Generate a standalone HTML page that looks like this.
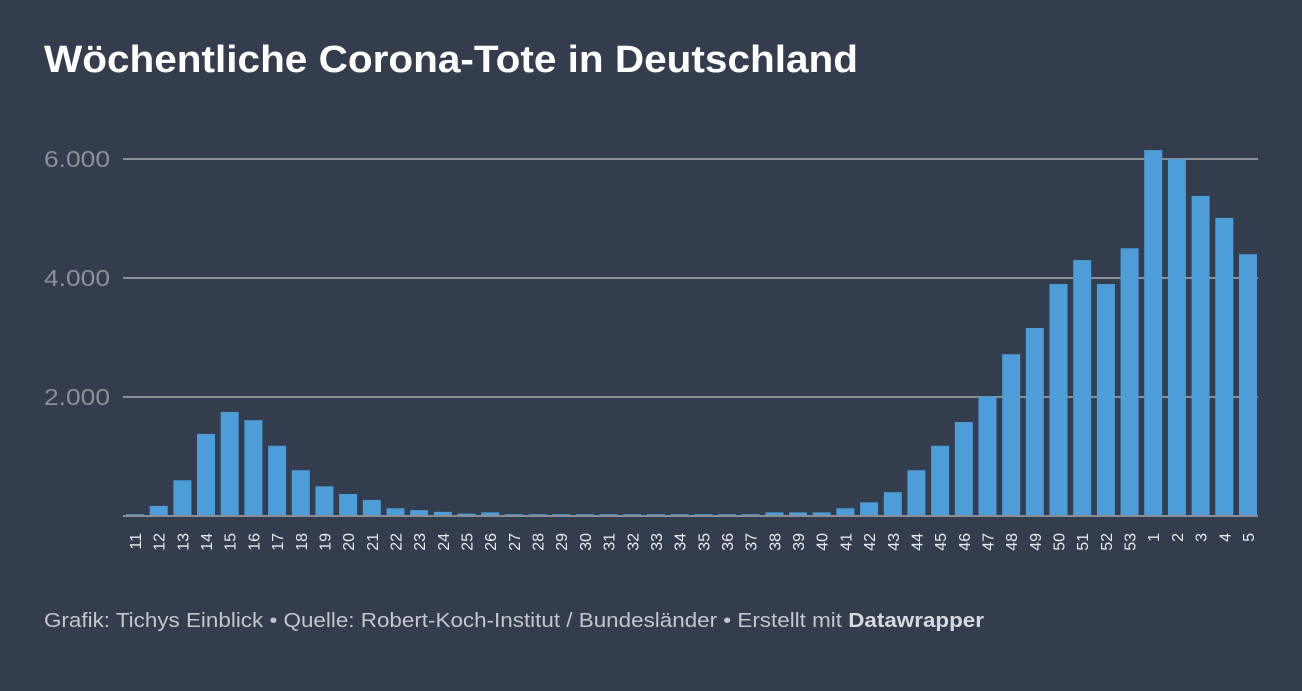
<!DOCTYPE html>
<html><head><meta charset="utf-8"><style>
html,body{margin:0;padding:0;background:#333d4e;}
body{width:1302px;height:686px;overflow:hidden;font-family:"Liberation Sans",sans-serif;}
</style></head><body>
<svg width="1302" height="686" xmlns="http://www.w3.org/2000/svg">
<rect width="1302" height="686" fill="#333d4e"/>
<text x="44" y="72" font-size="38" font-weight="bold" fill="#ffffff" font-family="Liberation Sans, sans-serif" textLength="814" lengthAdjust="spacingAndGlyphs">Wöchentliche Corona-Tote in Deutschland</text>
<g stroke="#8a8d92" stroke-width="2">
<line x1="123" y1="159" x2="1258" y2="159"/>
<line x1="123" y1="278" x2="1258" y2="278"/>
<line x1="123" y1="397" x2="1258" y2="397"/>
</g>
<g fill="#8d9096" font-size="23" font-family="Liberation Sans, sans-serif">
<text x="44" y="167" textLength="66" lengthAdjust="spacingAndGlyphs">6.000</text>
<text x="44" y="286" textLength="66" lengthAdjust="spacingAndGlyphs">4.000</text>
<text x="44" y="405" textLength="66" lengthAdjust="spacingAndGlyphs">2.000</text>
</g>
<g id="bars" fill="#4d9dd9"></g>
<line x1="123" y1="516" x2="1258" y2="516" stroke="#8a8d92" stroke-width="2"/>
<g id="labels" fill="#e8e8e8" font-size="16" font-family="Liberation Sans, sans-serif"></g>
<text x="44" y="627" font-size="20" fill="#c4c6ca" font-family="Liberation Sans, sans-serif" textLength="940" lengthAdjust="spacingAndGlyphs">Grafik: Tichys Einblick • Quelle: Robert-Koch-Institut / Bundesländer • Erstellt mit <tspan font-weight="bold" fill="#d8d9dc">Datawrapper</tspan></text>
</svg>
<script>
var v=[30,170,600,1380,1750,1610,1180,770,500,370,270,130,100,70,40,60,30,30,30,30,30,30,30,30,30,30,30,60,60,60,130,230,400,770,1180,1580,2010,2720,3160,3900,4300,3900,4500,6150,6000,5380,5010,4400];
var lab=[];for(var i=11;i<=53;i++)lab.push(i);for(i=1;i<=5;i++)lab.push(i);
var ns="http://www.w3.org/2000/svg",b=document.getElementById("bars"),l=document.getElementById("labels");
for(i=0;i<48;i++){var x=126+i*23.68,h=v[i]*0.0595;
var r=document.createElementNS(ns,"rect");r.setAttribute("x",x.toFixed(1));r.setAttribute("y",(516-h).toFixed(1));r.setAttribute("width","18");r.setAttribute("height",h.toFixed(1));b.appendChild(r);
var t=document.createElementNS(ns,"text");var cx=x+9+6,cy=533;
t.setAttribute("transform","translate("+cx.toFixed(1)+","+cy+") rotate(-90)");t.setAttribute("text-anchor","end");t.textContent=lab[i];l.appendChild(t);}
</script>
</body></html>
